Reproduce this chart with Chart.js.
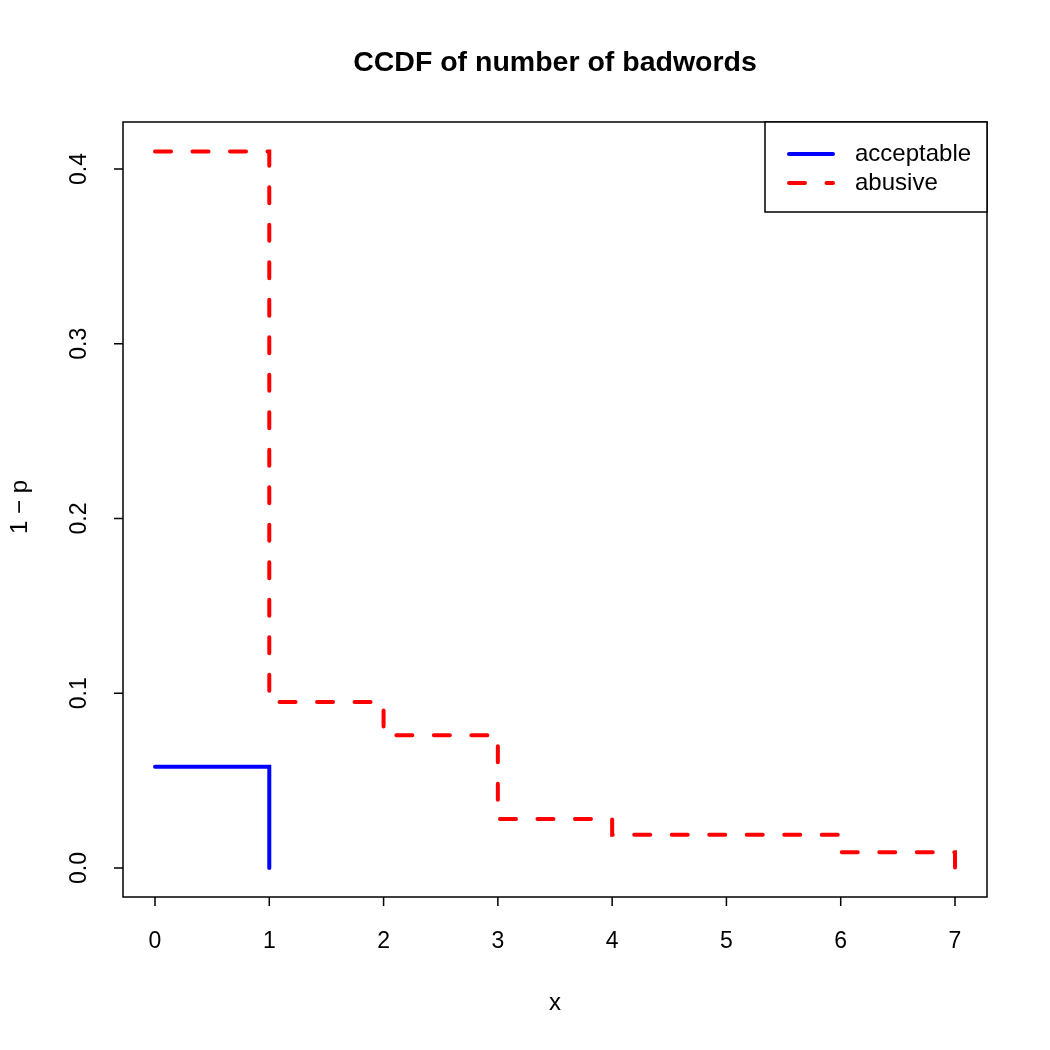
<!DOCTYPE html>
<html>
<head>
<meta charset="utf-8">
<script src="https://cdn.jsdelivr.net/npm/chart.js@4"></script>
<style>
  html, body { margin: 0; padding: 0; background: #fff; }
  #wrap { width: 1050px; height: 1050px; }
</style>
</head>
<body>
<div id="wrap"><canvas id="ccdfChart" width="1050" height="1050"></canvas></div>
<script>
// CCDF of number of badwords, step lines for two classes

const acceptableX = [0, 1];
const acceptableY = [0.058, 0];
const abusiveX = [0, 1, 2, 3, 4, 6, 7];
const abusiveY = [0.41, 0.095, 0.076, 0.028, 0.019, 0.009, 0];
const xTicks = [0, 1, 2, 3, 4, 5, 6, 7];
const yTicks = [0, 0.1, 0.2, 0.3, 0.4];
const yTickLabels = ["0.0", "0.1", "0.2", "0.3", "0.4"];

const FONT = "'Liberation Sans', Arial, Helvetica, sans-serif";

const toPoints = (xs, ys) => xs.map((x, i) => ({ x: x, y: ys[i] }));

// R-style frame, axes, labels, title and legend
const rDecor = {
    id: "rDecor",
    afterDraw(chart) {
        const ctx = chart.ctx;
        const area = chart.chartArea;
        const xs = chart.scales.x;
        const ys = chart.scales.y;
        ctx.save();
        ctx.strokeStyle = "#000";
        ctx.fillStyle = "#000";
        ctx.lineWidth = 1.5;

        // box
        ctx.strokeRect(area.left, area.top, area.right - area.left, area.bottom - area.top);

        // x axis
        ctx.beginPath();
        xTicks.forEach(v => {
            const px = xs.getPixelForValue(v);
            ctx.moveTo(px, area.bottom);
            ctx.lineTo(px, area.bottom + 9);
        });
        ctx.stroke();
        ctx.font = "23px " + FONT;
        ctx.textAlign = "center";
        ctx.textBaseline = "middle";
        xTicks.forEach(v => ctx.fillText(String(v), xs.getPixelForValue(v), 942));

        // y axis
        ctx.beginPath();
        yTicks.forEach(v => {
            const py = ys.getPixelForValue(v);
            ctx.moveTo(area.left, py);
            ctx.lineTo(area.left - 9, py);
        });
        ctx.stroke();
        yTicks.forEach((v, i) => {
            ctx.save();
            ctx.translate(80, ys.getPixelForValue(v));
            ctx.rotate(-Math.PI / 2);
            ctx.fillText(yTickLabels[i], 0, 0);
            ctx.restore();
        });

        // axis titles
        ctx.font = "24px " + FONT;
        ctx.fillText("x", 555, 1003);
        ctx.save();
        ctx.translate(20, 507);
        ctx.rotate(-Math.PI / 2);
        ctx.fillText("1 \u2212 p", 0, 0);
        ctx.restore();

        // main title
        ctx.font = "bold 28.5px " + FONT;
        ctx.fillText("CCDF of number of badwords", 555, 63);

        // legend
        const lx = 765, ly = area.top, lw = area.right - lx, lh = 90;
        ctx.fillStyle = "#fff";
        ctx.fillRect(lx, ly, lw, lh);
        ctx.strokeStyle = "#000";
        ctx.strokeRect(lx, ly, lw, lh);
        ctx.font = "24px " + FONT;
        ctx.textAlign = "left";
        chart.data.datasets.forEach((ds, i) => {
            const y = 154 + i * 29;
            ctx.strokeStyle = ds.borderColor;
            ctx.lineWidth = ds.borderWidth;
            ctx.lineCap = "round";
            ctx.setLineDash(ds.borderDash || []);
            ctx.beginPath();
            ctx.moveTo(789, y);
            ctx.lineTo(833, y);
            ctx.stroke();
            ctx.setLineDash([]);
            ctx.fillStyle = "#000";
            ctx.fillText(ds.label, 855, y);
        });
        ctx.restore();
    }
};

new Chart(document.getElementById("ccdfChart").getContext("2d"), {
    type: "line",
    data: {
        datasets: [{
            label: "acceptable",
            data: toPoints(acceptableX, acceptableY),
            borderColor: "#0000ff",
            borderWidth: 4,
            stepped: "before",
            pointRadius: 0,
            fill: false,
            borderCapStyle: "round"
        }, {
            label: "abusive",
            data: toPoints(abusiveX, abusiveY),
            borderColor: "#ff0000",
            borderWidth: 4,
            borderDash: [16, 21.5],
            stepped: "before",
            pointRadius: 0,
            fill: false,
            borderCapStyle: "round"
        }]
    },
    options: {
        responsive: false,
        animation: false,
        layout: { padding: { left: 123, right: 63, top: 122, bottom: 153 } },
        plugins: {
            legend: { display: false },
            title: { display: false },
            tooltip: { enabled: false }
        },
        scales: {
            x: { type: "linear", min: -0.28, max: 7.28, display: false },
            y: { type: "linear", min: -0.0166, max: 0.4269, display: false }
        }
    },
    plugins: [rDecor]
});
</script>
</body>
</html>
